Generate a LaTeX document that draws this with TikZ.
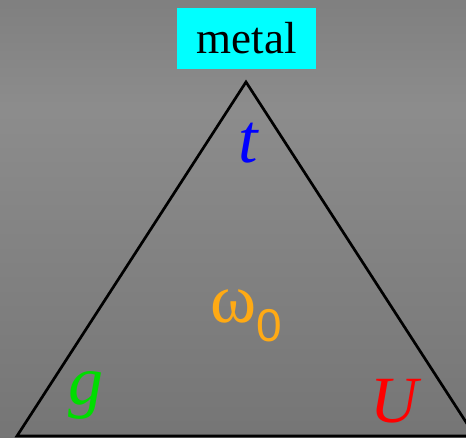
\documentclass[tikz,border=0pt]{standalone}
\usepackage{fontspec}
\setmainfont{Liberation Serif}
\newfontfamily\sansf{Liberation Sans}
\definecolor{boxcyan}{rgb}{0,1,1}
\definecolor{omorange}{HTML}{FFAA14}
\definecolor{ggreen}{HTML}{00DD00}
\definecolor{ured}{rgb}{1,0,0}
\definecolor{tblue}{rgb}{0,0,1}
\begin{document}
\begin{tikzpicture}[x=1pt,y=1pt,
  lbl/.style={inner sep=0pt, anchor=base},
  edge/.style={draw=black, line width=2.7pt, line join=miter}]
\useasboundingbox (0,0) rectangle (466,438);
\shade[top color=black!50, bottom color=black!45] (0,438) rectangle (466,330);
\shade[top color=black!45, bottom color=black!54] (0,330) rectangle (466,0);
\coordinate (apex) at (246,356);
\coordinate (bl) at (17,2);
\coordinate (br) at (475,2);
\begin{scope}
\clip (0,0) rectangle (466,438);
\draw[edge] (apex) -- (bl) -- (br) -- cycle;
\end{scope}
\node[fill=boxcyan, minimum width=139pt, minimum height=61pt, inner sep=0pt] (metal) at (246.5,399.5) {};
\node[lbl, font=\fontsize{45}{47}\selectfont] (mtxt) at (246.5,384) {metal};
\node[lbl, text=tblue, font=\fontsize{70}{72}\selectfont\itshape] (t) at (248,275) {t};
\node[lbl, text=ggreen, font=\fontsize{70}{72}\selectfont\itshape] (g) at (86,33) {g};
\node[lbl, text=ured, font=\fontsize{66}{68}\selectfont\itshape] (U) at (394,15) {U};
\node[lbl, text=omorange, font=\fontsize{70}{72}\selectfont] (w) at (234,115) {ω};
\node[lbl, text=omorange, font=\sansf\fontsize{46}{48}\selectfont] (zero) at (269,96) {0};
\end{tikzpicture}
\end{document}
